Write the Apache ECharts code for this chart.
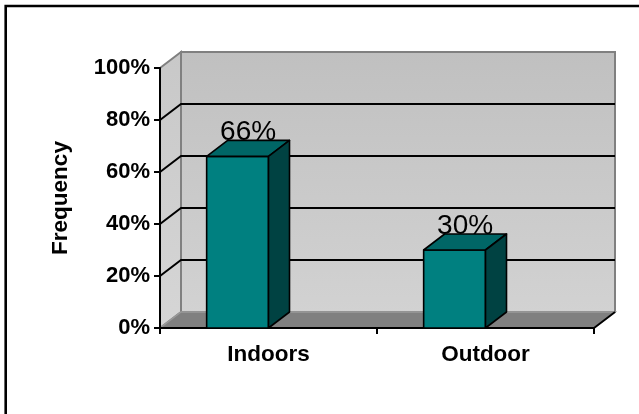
<!DOCTYPE html>
<html><head><meta charset="utf-8">
<script src="https://cdn.jsdelivr.net/npm/echarts@6.0.0/dist/echarts.min.js"></script>
<style>html,body{margin:0;padding:0;background:#fff}#c{width:639px;height:414px}</style>
</head><body><div id="c"></div>
<script>
const categories = ['Indoors', 'Outdoor'];
const frequency = [0.66, 0.30];
const yTickValues = [0, 0.2, 0.4, 0.6, 0.8, 1.0];
const yAxisTitle = 'Frequency';

const DX = 21, DY = -16;
const FONT = '"Liberation Sans", Arial, sans-serif';
const chart = echarts.init(document.getElementById('c'), null, {renderer: 'canvas'});

function wallsRender(params, api) {
  const band = api.size([1, 0])[0];
  const c0 = api.coord([0, 0]);
  const xl = c0[0] - band / 2;
  const xr = xl + band * categories.length;
  const yb = c0[1];
  const yt = api.coord([0, yTickValues[yTickValues.length - 1]])[1];
  const ch = [];
  ch.push({type: 'polygon', shape: {points: [[xl + DX, yt + DY], [xr + DX, yt + DY], [xr + DX, yb + DY], [xl + DX, yb + DY]]},
    style: {fill: new echarts.graphic.LinearGradient(0, 0, 0, 1, [{offset: 0, color: '#c0c0c0'}, {offset: 1, color: '#d2d2d2'}]), stroke: '#808080', lineWidth: 2}});
  ch.push({type: 'polygon', shape: {points: [[xl, yt], [xl + DX, yt + DY], [xl + DX, yb + DY], [xl, yb]]},
    style: {fill: new echarts.graphic.LinearGradient(0, 0, 0, 1, [{offset: 0, color: '#c8c8c8'}, {offset: 1, color: '#d6d6d6'}]), stroke: '#808080', lineWidth: 2}});
  ch.push({type: 'polygon', shape: {points: [[xl, yb], [xr, yb], [xr + DX, yb + DY], [xl + DX, yb + DY]]},
    style: {fill: '#808080', stroke: '#9a9a9a', lineWidth: 1.5}});
  yTickValues.forEach((v, i) => {
    if (i === 0 || i === yTickValues.length - 1) return;
    const y = api.coord([0, v])[1];
    ch.push({type: 'polyline', shape: {points: [[xl, y], [xl + DX, y + DY], [xr + DX, y + DY]]},
      style: {stroke: '#000', lineWidth: 2, fill: null}});
  });
  ch.push({type: 'line', shape: {x1: xr, y1: yb, x2: xr + DX, y2: yb + DY}, style: {stroke: '#000', lineWidth: 2}});
  return {type: 'group', children: ch};
}

function barRender(params, api) {
  const idx = api.value(0);
  const v = api.value(1);
  const top = api.coord([idx, v]);
  const base = api.coord([idx, 0]);
  const band = api.size([1, 0])[0];
  const w = band * 0.285;
  const x1 = top[0], x0 = x1 - w;
  const yt = top[1], yb = base[1];
  const line = {stroke: '#000', lineWidth: 1.6, lineJoin: 'round'};
  return {type: 'group', children: [
    {type: 'text', style: {text: Math.round(v * 100) + '%', x: x0 + w / 2 + DX / 2, y: yt + DY - 8,
      align: 'center', verticalAlign: 'middle', font: 'normal 28px ' + FONT, fill: '#000'}},
    {type: 'polygon', shape: {points: [[x0, yt], [x1, yt], [x1, yb], [x0, yb]]}, style: Object.assign({fill: '#008080'}, line)},
    {type: 'polygon', shape: {points: [[x0, yt], [x1, yt], [x1 + DX, yt + DY], [x0 + DX, yt + DY]]}, style: Object.assign({fill: '#006666'}, line)},
    {type: 'polygon', shape: {points: [[x1, yt], [x1 + DX, yt + DY], [x1 + DX, yb + DY], [x1, yb]]}, style: Object.assign({fill: '#004242'}, line)}
  ]};
}

chart.setOption({
  animation: false,
  backgroundColor: '#fff',
  graphic: [{type: 'rect', shape: {x: 5.7, y: 6, width: 700, height: 500}, style: {fill: 'none', stroke: '#000', lineWidth: 2.6}, z: 0}],
  grid: {left: 160, top: 68, width: 434, height: 260},
  xAxis: {
    type: 'category', data: categories, boundaryGap: true, z: 10,
    axisLine: {lineStyle: {color: '#000', width: 2}},
    axisTick: {show: true, length: 6, lineStyle: {color: '#000', width: 2}},
    axisLabel: {margin: 15, color: '#000', fontFamily: FONT, fontWeight: 'bold', fontSize: 22.5},
    splitLine: {show: false}
  },
  yAxis: {
    type: 'value', min: 0, max: 1, interval: 0.2, z: 10,
    name: yAxisTitle, nameLocation: 'middle', nameRotate: 90, nameGap: 88,
    nameTextStyle: {color: '#000', fontFamily: FONT, fontWeight: 'bold', fontSize: 22.5},
    axisLine: {show: true, lineStyle: {color: '#000', width: 2}},
    axisTick: {show: true, length: 6, lineStyle: {color: '#000', width: 2}},
    axisLabel: {margin: 10, color: '#000', fontFamily: FONT, fontWeight: 'bold', fontSize: 22,
      formatter: v => Math.round(v * 100) + '%'},
    splitLine: {show: false}
  },
  series: [
    {type: 'custom', z: 1, clip: false, silent: true, renderItem: wallsRender, data: [[0, 0]]},
    {type: 'custom', z: 20, clip: false, renderItem: barRender, encode: {x: 0, y: 1},
      data: categories.map((c, i) => [i, frequency[i]])}
  ]
});
</script></body></html>
